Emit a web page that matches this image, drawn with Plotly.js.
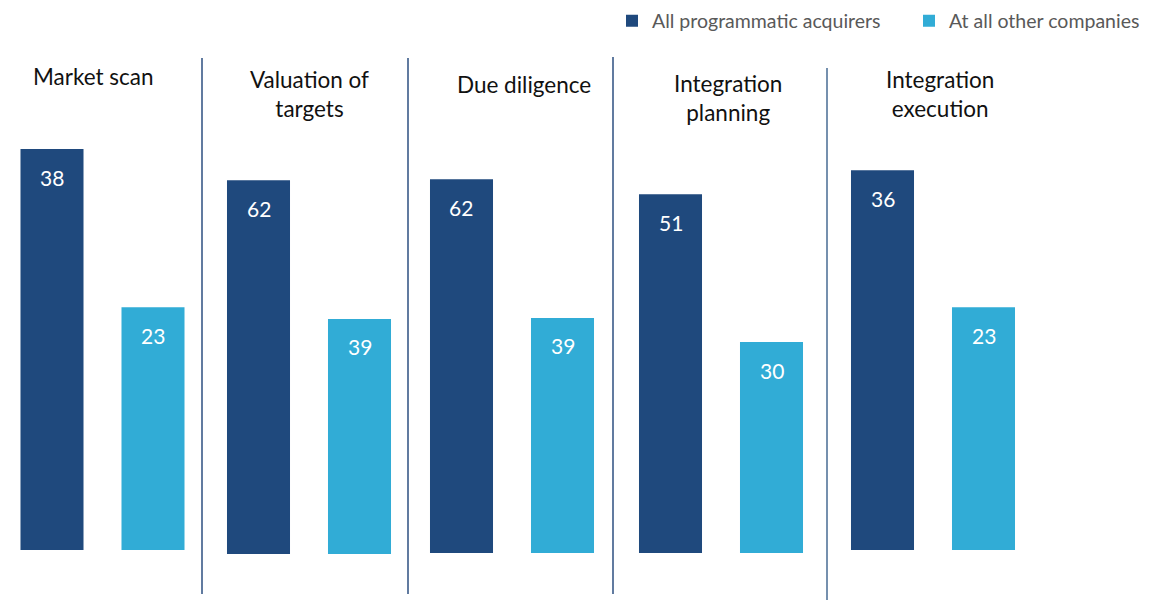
<!DOCTYPE html>
<html>
<head>
<meta charset="utf-8">
<script src="https://cdn.plot.ly/plotly-3.0.1.min.js"></script>
<style>html,body{margin:0;padding:0;background:#fff;}#chart{width:1170px;height:600px;}</style>
</head>
<body>
<div id="chart"></div>
<script>
// ---- data ----
const stages = ["Market scan", "Valuation of<br>targets", "Due diligence", "Integration<br>planning", "Integration<br>execution"];
const seriesNames = ["All programmatic acquirers", "At all other companies"];
const programmatic = [38, 62, 62, 51, 36];
const otherCompanies = [23, 39, 39, 30, 23];
const panelAxisMax = [40, 70, 70, 60, 40];

// ---- layout constants (pixels) ----
const W = 1170, H = 600;
const panelCenterPx = [102.5, 309, 512, 721, 933];
const categoryPx = 101;
const plotBottomPx = [550, 554, 553, 553, 550];
const plotHeightPx = 422;
const titleCenterPx = [93, 309, 524, 728, 940];
const titleYPx = [77, 94, 84, 98, 94];
const separators = [
  {x: 202, y0: 58, y1: 594, color: '#2C4F80', w: 1.5},
  {x: 408, y0: 58, y1: 594, color: '#2C4F80', w: 1.5},
  {x: 613, y0: 57, y1: 594, color: '#2C4F80', w: 1.5},
  {x: 827, y0: 68, y1: 600, color: '#7590AE', w: 2}
];
const darkColor = '#1F497D';
const lightColor = '#31ACD6';
const FONT = 'Lato, "Open Sans", sans-serif';

const traces = [];
const layout = {
  width: W, height: H,
  margin: {l: 0, r: 0, t: 0, b: 0},
  paper_bgcolor: '#fff', plot_bgcolor: 'rgba(0,0,0,0)',
  barmode: 'overlay',
  showlegend: true,
  font: {family: FONT},
  legend: {
    orientation: 'h', x: 612 / W, xanchor: 'left', y: 1 - 21 / H, yanchor: 'middle',
    font: {family: FONT, size: 19.5, color: '#595959'},
    bgcolor: 'rgba(0,0,0,0)', itemclick: false, itemdoubleclick: false,
    traceorder: 'normal', tracegroupgap: 0
  },
  annotations: [],
  shapes: []
};

stages.forEach((stage, i) => {
  const n = i + 1;
  const xa = 'x' + (n === 1 ? '' : n);
  const ya = 'y' + (n === 1 ? '' : n);
  const t1 = {
    type: 'bar', x: [seriesNames[0]], y: [programmatic[i]], name: seriesNames[0],
    xaxis: xa, yaxis: ya, width: 0.624, marker: {color: darkColor},
    showlegend: i === 0, legendgroup: 'a', hoverinfo: 'skip'
  };
  if (i === 0) t1.legendwidth = 252;
  traces.push(t1);
  traces.push({
    type: 'bar', x: [seriesNames[1]], y: [otherCompanies[i]], name: seriesNames[1],
    xaxis: xa, yaxis: ya, width: 0.624, marker: {color: lightColor},
    showlegend: i === 0, legendgroup: 'b', hoverinfo: 'skip'
  });
  const xKey = 'xaxis' + (n === 1 ? '' : n);
  const yKey = 'yaxis' + (n === 1 ? '' : n);
  const x0 = (panelCenterPx[i] - categoryPx) / W;
  const x1 = (panelCenterPx[i] + categoryPx) / W;
  layout[xKey] = {
    domain: [x0, x1], type: 'category', categoryorder: 'array', categoryarray: seriesNames,
    range: [-0.5, 1.5], anchor: ya, showticklabels: false, showgrid: false,
    zeroline: false, showline: false, ticks: '', fixedrange: true
  };
  layout[yKey] = {
    domain: [1 - plotBottomPx[i] / H, 1 - (plotBottomPx[i] - plotHeightPx) / H],
    range: [0, panelAxisMax[i]], anchor: xa, showticklabels: false, showgrid: false,
    zeroline: false, showline: false, ticks: '', fixedrange: true
  };
  // value labels
  [[programmatic[i], seriesNames[0]], [otherCompanies[i], seriesNames[1]]].forEach(([v, s]) => {
    layout.annotations.push({
      xref: xa, yref: ya, x: s, y: v, yshift: -28, yanchor: 'middle', xanchor: 'center',
      text: String(v), showarrow: false, font: {family: FONT, size: 21, color: '#ffffff'}
    });
  });
  // panel titles
  layout.annotations.push({
    xref: 'paper', yref: 'paper', x: titleCenterPx[i] / W, y: 1 - titleYPx[i] / H,
    xanchor: 'center', yanchor: 'middle', align: 'center', showarrow: false,
    text: stage, font: {family: FONT, size: 22.5, color: '#111111'}
  });
});

separators.forEach(s => {
  layout.shapes.push({
    type: 'line', xref: 'paper', yref: 'paper',
    x0: s.x / W, x1: s.x / W, y0: 1 - s.y0 / H, y1: 1 - s.y1 / H,
    line: {color: s.color, width: s.w}
  });
});

Plotly.newPlot('chart', traces, layout, {displayModeBar: false, staticPlot: true});
</script>
</body>
</html>
